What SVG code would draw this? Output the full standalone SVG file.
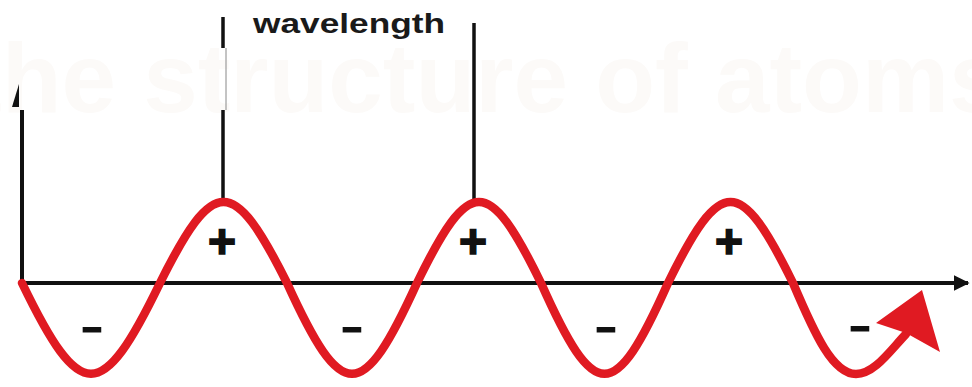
<svg xmlns="http://www.w3.org/2000/svg" width="972" height="387" viewBox="0 0 972 387">
  <style>
    .ax { stroke: #111; stroke-width: 4; fill: none; }
    .tick { stroke: #111; stroke-width: 3.5; fill: none; }
    .wave { stroke: #e01a22; stroke-width: 8.5; fill: none; stroke-linejoin: round; stroke-linecap: round; }
    .sign { font-family: "Liberation Sans", Arial, sans-serif; font-weight: bold; fill: #111; stroke: #111; text-anchor: middle; }
    .label { font-family: "Liberation Sans", Arial, sans-serif; font-weight: bold; font-size: 28px; fill: #1a1a1a; }
    .wm { font-family: "Liberation Sans", Arial, sans-serif; font-weight: bold; font-size: 98px; fill: #fcfaf8; }
  </style>
  <defs>
    <marker id="arrowBlack" viewBox="0 0 10 10" refX="9" refY="5" markerWidth="4" markerHeight="6" markerUnits="strokeWidth" orient="auto">
      <path d="M0,0 L10,5 L0,10 Z" fill="#111"/>
    </marker>
  </defs>
  <rect width="972" height="387" fill="#fff"/>
  <text class="wm" x="-31" y="112">the structure of atoms</text>

  <g id="connectors">
    <line class="ax" x1="20" y1="283" x2="968" y2="283" marker-end="url(#arrowBlack)"/>
    <line class="ax" x1="22" y1="285" x2="22" y2="110"/>
    <polygon points="12,107 19,84 19,107" fill="#111"/>
    <line class="tick" x1="223" y1="17" x2="223" y2="48"/>
    <line x1="226" y1="48" x2="226" y2="110" stroke="#888" stroke-width="1"/>
    <line class="tick" x1="223" y1="110" x2="223" y2="201"/>
    <line class="tick" x1="474" y1="23" x2="474" y2="199"/>
  </g>

  <g id="wave">
    <path class="wave" d="M22,283 C80.5,404 101.5,404 160,283 C213.8,175 233.2,175 287,283 C342.1,404 361.9,404 417,283 C469.6,175 488.4,175 541,283 C594.8,404 614.2,404 668,283 C721,175 740,175 793,283 C815,335 833,374 856,374 C874,374 889,352 906,334"/>
    <polygon points="876,323 922,290 940,352 906,333" fill="#e01a22"/>
  </g>

  <g id="label-wavelength">
    <text class="label" x="253" y="33" textLength="192" lengthAdjust="spacingAndGlyphs">wavelength</text>
  </g>

  <g id="plus-signs">
    <text class="sign" x="222" y="258" font-size="48" stroke-width="1.6">+</text>
    <text class="sign" x="473" y="258" font-size="48" stroke-width="1.6">+</text>
    <text class="sign" x="729" y="258" font-size="48" stroke-width="1.6">+</text>
  </g>
  <g id="minus-signs">
    <text class="sign" x="92" y="339" font-size="36" stroke-width="1" textLength="22" lengthAdjust="spacingAndGlyphs">-</text>
    <text class="sign" x="352" y="339" font-size="36" stroke-width="1" textLength="22" lengthAdjust="spacingAndGlyphs">-</text>
    <text class="sign" x="606" y="339" font-size="36" stroke-width="1" textLength="22" lengthAdjust="spacingAndGlyphs">-</text>
    <text class="sign" x="860" y="338" font-size="36" stroke-width="1" textLength="22" lengthAdjust="spacingAndGlyphs">-</text>
  </g>
</svg>
